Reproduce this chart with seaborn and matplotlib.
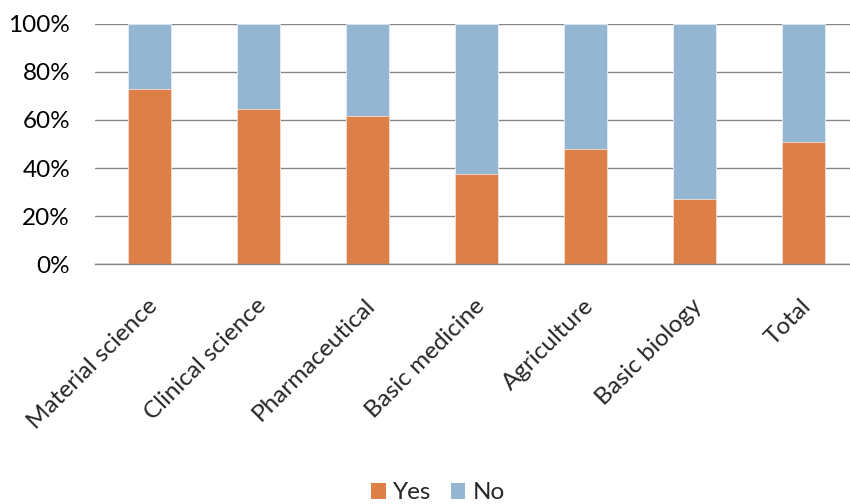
import numpy as np
import pandas as pd
import matplotlib
matplotlib.use("Agg")
import matplotlib.pyplot as plt
import matplotlib.transforms as mtransforms
from matplotlib.patches import Patch
from matplotlib.ticker import FixedLocator, FuncFormatter
import seaborn as sns

categories = ["Material science", "Clinical science", "Pharmaceutical",
              "Basic medicine", "Agriculture", "Basic biology", "Total"]
yes_pct = [72.7, 64.6, 61.7, 37.4, 48.1, 27.3, 50.9]
no_pct = [27.3, 35.4, 38.3, 62.6, 51.9, 72.7, 49.1]
y_ticks = [0, 20, 40, 60, 80, 100]
series_names = ["Yes", "No"]

ORANGE = "#DD8047"
BLUE = "#94B6D2"
GRAY = "#868686"
FS = 17.5

sns.set_style("white")
plt.rcParams["font.family"] = ["Lato", "DejaVu Sans"]
plt.rcParams["font.size"] = FS

df = pd.DataFrame({"category": categories, "yes": yes_pct, "no": no_pct})
df["top"] = df["yes"] + df["no"]

fig = plt.figure(figsize=(8.5, 5.04), dpi=100)
ax = fig.add_axes([95 / 850, 1 - 264.3 / 504, 763 / 850, 240.6 / 504])

sns.barplot(data=df, x="category", y="top", color=BLUE, saturation=1,
            width=0.395, ax=ax, edgecolor="#e8eef5", linewidth=0.6)
sns.barplot(data=df, x="category", y="yes", color=ORANGE, saturation=1,
            width=0.395, ax=ax, edgecolor="#f3e0d4", linewidth=0.6)

ax.set_xlim(-0.5, len(categories) - 0.5)
ax.set_ylim(0, 100)
ax.yaxis.set_major_locator(FixedLocator(y_ticks))
ax.yaxis.set_major_formatter(FuncFormatter(lambda v, p: f"{v:.0f}%"))
ax.set_xlabel("")
ax.set_ylabel("")

ax.set_axisbelow(True)
ax.grid(axis="y", color=GRAY, linewidth=1.0)
ax.grid(axis="x", visible=False)
for s in ["top", "right", "left"]:
    ax.spines[s].set_visible(False)
ax.spines["bottom"].set_color(GRAY)
ax.spines["bottom"].set_linewidth(1.0)

ax.tick_params(axis="y", length=0, pad=18, labelsize=FS, labelcolor="black")
ax.set_xticks(np.arange(-0.5, len(categories) + 0.5, 1.0), minor=True)
ax.tick_params(axis="x", which="minor", length=5.8, width=1.0, color=GRAY, direction="out")
ax.tick_params(axis="x", which="major", length=0, pad=22, labelsize=FS)

offset = mtransforms.ScaledTranslation(-3 / 100, 0, fig.dpi_scale_trans)
for lab in ax.get_xticklabels():
    lab.set_rotation(45)
    lab.set_ha("right")
    lab.set_va("top")
    lab.set_rotation_mode("anchor")
    lab.set_transform(lab.get_transform() + offset)

handles = [Patch(facecolor=ORANGE, edgecolor="none"),
           Patch(facecolor=BLUE, edgecolor="none")]
fig.legend(handles, series_names, loc="center", bbox_to_anchor=(438 / 850, 0.022),
           ncol=2, frameon=False, handlelength=0.6, handleheight=0.6,
           handletextpad=0.3, columnspacing=0.8, fontsize=FS, borderpad=0)

fig.savefig("out.png", dpi=100)
